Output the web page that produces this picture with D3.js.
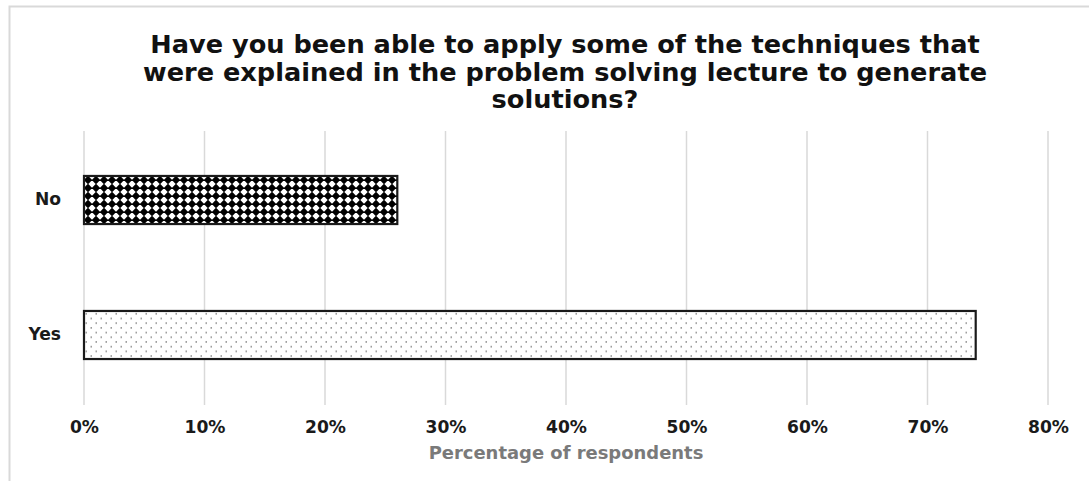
<!DOCTYPE html>
<html>
<head>
<meta charset="utf-8">
<script src="https://cdn.jsdelivr.net/npm/d3@7/dist/d3.min.js"></script>
<style>
  html, body { margin: 0; padding: 0; background: #fff; }
  svg { display: block; }
  text { font-family: "DejaVu Sans", sans-serif; font-weight: 700; }
</style>
</head>
<body>
<script>
// Survey answers (percentage of respondents)
const categories = ["No", "Yes"];
const values = [26, 74];
const tickValues = [0, 10, 20, 30, 40, 50, 60, 70, 80];
const titleLines = [
  "Have you been able to apply some of the techniques that",
  "were explained in the problem solving lecture to generate",
  "solutions?"
];
const axisTitle = "Percentage of respondents";

const W = 1089, H = 481;
const FONT = "'DejaVu Sans', sans-serif";
const svg = d3.select("body").append("svg").attr("width", W).attr("height", H);

// Scale a text element's font size so it spans the given width
function fitWidth(sel, target, base) {
  sel.attr("font-size", base);
  const w = sel.node().getComputedTextLength();
  return base * target / w;
}

// Patterns: solid diamonds for "No", fine dots for "Yes"
const defs = svg.append("defs");
const diam = defs.append("pattern").attr("id", "pat-diamond")
  .attr("patternUnits", "userSpaceOnUse").attr("width", 8).attr("height", 8)
  .attr("x", 84).attr("y", 176);
diam.append("rect").attr("width", 8).attr("height", 8).attr("fill", "#fff");
diam.append("path").attr("d", "M4,-0.3 L8.3,4 L4,8.3 L-0.3,4 Z").attr("fill", "#000");

const dots = defs.append("pattern").attr("id", "pat-dots")
  .attr("patternUnits", "userSpaceOnUse").attr("width", 10).attr("height", 9.4)
  .attr("x", 84).attr("y", 311);
dots.append("rect").attr("width", 10).attr("height", 9.4).attr("fill", "#fff");
dots.append("rect").attr("x", 1.5).attr("y", 2).attr("width", 1.5).attr("height", 1.5).attr("fill", "#8a8a8a");
dots.append("rect").attr("x", 6.5).attr("y", 6.7).attr("width", 1.5).attr("height", 1.5).attr("fill", "#8a8a8a");
const fills = { "No": "url(#pat-diamond)", "Yes": "url(#pat-dots)" };

// Chart frame
svg.append("path").attr("d", `M9.5,${H} V6.5 H${W}`)
  .attr("fill", "none").attr("stroke", "#d9d9d9").attr("stroke-width", 2);

const x = d3.scaleLinear().domain([0, 80]).range([84, 1048]);
const y = d3.scaleBand().domain(categories).range([132.5, 402.5])
  .paddingInner(0.644).paddingOuter(0.322);

// Vertical gridlines
svg.append("g").selectAll("line").data(tickValues).join("line")
  .attr("x1", d => x(d)).attr("x2", d => x(d))
  .attr("y1", 131).attr("y2", 405)
  .attr("stroke", "#d9d9d9").attr("stroke-width", 1.5);

// Bars
svg.append("g").selectAll("rect").data(categories).join("rect")
  .attr("x", x(0))
  .attr("y", d => y(d))
  .attr("width", (d, i) => x(values[i]) - x(0))
  .attr("height", y.bandwidth())
  .attr("fill", d => fills[d])
  .attr("stroke", "#1a1a1a").attr("stroke-width", 2.2);

// X tick labels
const xAxis = svg.append("g").attr("transform", "translate(0,405)")
  .call(d3.axisBottom(x).tickValues(tickValues).tickFormat(d => d + "%").tickSize(0).tickPadding(16));
xAxis.select(".domain").remove();
xAxis.attr("font-family", FONT);
const tickText = xAxis.selectAll("text").attr("font-weight", 700).attr("fill", "#1a1a1a");
const tickSize = fitWidth(tickText.filter((d, i) => i === 1), 41, 15);
tickText.attr("font-size", tickSize);

// Category labels
const yAxis = svg.append("g").attr("transform", "translate(61,0)")
  .call(d3.axisLeft(y).tickSize(0).tickPadding(0));
yAxis.select(".domain").remove();
yAxis.attr("font-family", FONT);
yAxis.selectAll("text").attr("font-size", tickSize).attr("font-weight", 700).attr("fill", "#1a1a1a");

// Axis title
const at = svg.append("text").attr("x", 566).attr("y", 459).attr("text-anchor", "middle")
  .attr("fill", "#7a7a7a").text(axisTitle);
at.attr("font-size", fitWidth(at, 275, 15));

// Chart title
const tl = svg.append("g").selectAll("text").data(titleLines).join("text")
  .attr("x", 565).attr("y", (d, i) => 53 + i * 27.5)
  .attr("text-anchor", "middle").attr("fill", "#111")
  .text(d => d);
const titleSize = fitWidth(tl.filter((d, i) => i === 0), 830, 20);
tl.attr("font-size", titleSize);
</script>
</body>
</html>
